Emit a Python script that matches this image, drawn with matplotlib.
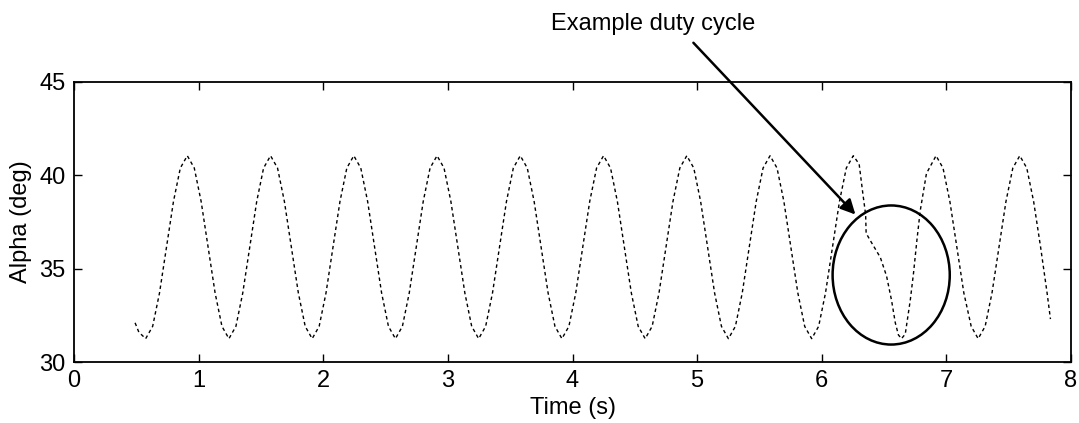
import matplotlib.pyplot as plt
from matplotlib.patches import Ellipse

plt.rcParams['font.family'] = ['Liberation Sans', 'DejaVu Sans']

# time (s) and angle of attack (deg)
time_s = [
    0.490, 0.520,
    0.575, 0.631, 0.686, 0.742, 0.798, 0.853, 0.909, 0.965, 1.020, 1.076, 1.132, 1.187,
    1.243, 1.299, 1.354, 1.410, 1.466, 1.521, 1.577, 1.633, 1.688, 1.744, 1.800, 1.855,
    1.911, 1.967, 2.022, 2.078, 2.134, 2.189, 2.245, 2.301, 2.356, 2.412, 2.468, 2.523,
    2.579, 2.635, 2.690, 2.746, 2.802, 2.857, 2.913, 2.969, 3.024, 3.080, 3.136, 3.191,
    3.247, 3.303, 3.358, 3.414, 3.470, 3.525, 3.581, 3.637, 3.692, 3.748, 3.804, 3.859,
    3.915, 3.971, 4.026, 4.082, 4.138, 4.193, 4.249, 4.305, 4.360, 4.416, 4.472, 4.527,
    4.583, 4.639, 4.694, 4.750, 4.806, 4.861, 4.917, 4.973, 5.028, 5.084, 5.140, 5.195,
    5.251, 5.307, 5.362, 5.418, 5.474, 5.529, 5.585, 5.641, 5.696, 5.752, 5.808, 5.863,
    5.919, 5.975, 6.030, 6.086, 6.142, 6.197, 6.253, 6.300, 6.330,
    6.352, 6.356, 6.390, 6.470, 6.520, 6.560, 6.590, 6.615, 6.640, 6.670, 6.710,
    6.736, 6.763, 6.790, 6.840, 6.917, 6.973, 7.028, 7.084, 7.140, 7.199,
    7.255, 7.311, 7.366, 7.422, 7.478, 7.533, 7.589, 7.645, 7.700, 7.756, 7.808, 7.835,
]
alpha_deg = [
    32.10, 31.60,
    31.25, 31.91, 33.70, 36.15, 38.60, 40.39, 41.05, 40.39, 38.60, 36.15, 33.70, 31.91,
    31.25, 31.91, 33.70, 36.15, 38.60, 40.39, 41.05, 40.39, 38.60, 36.15, 33.70, 31.91,
    31.25, 31.91, 33.70, 36.15, 38.60, 40.39, 41.05, 40.39, 38.60, 36.15, 33.70, 31.91,
    31.25, 31.91, 33.70, 36.15, 38.60, 40.39, 41.05, 40.39, 38.60, 36.15, 33.70, 31.91,
    31.25, 31.91, 33.70, 36.15, 38.60, 40.39, 41.05, 40.39, 38.60, 36.15, 33.70, 31.91,
    31.25, 31.91, 33.70, 36.15, 38.60, 40.39, 41.05, 40.39, 38.60, 36.15, 33.70, 31.91,
    31.25, 31.91, 33.70, 36.15, 38.60, 40.39, 41.05, 40.39, 38.60, 36.15, 33.70, 31.91,
    31.25, 31.91, 33.70, 36.15, 38.60, 40.39, 41.05, 40.39, 38.60, 36.15, 33.70, 31.91,
    31.25, 31.91, 33.70, 36.15, 38.60, 40.39, 41.05, 40.60, 39.00,
    37.90, 36.90, 36.50, 35.60, 34.60, 33.30, 32.10, 31.45, 31.25, 31.50, 33.30,
    34.75, 36.50, 38.10, 40.10, 41.05, 40.39, 38.60, 36.15, 33.70, 31.91,
    31.25, 31.91, 33.70, 36.15, 38.60, 40.39, 41.05, 40.39, 38.60, 36.15, 33.70, 32.30,
]

x_ticks = [0, 1, 2, 3, 4, 5, 6, 7, 8]
y_ticks = [30, 35, 40, 45]

# highlighted duty cycle: centre, width, height in data units
circle_xy = (6.557, 34.66)
circle_w = 0.94
circle_h = 7.45

fig = plt.figure(figsize=(10.79, 4.23), dpi=100)
ax = fig.add_axes([0.0686, 0.1442, 0.924, 0.662])

ax.plot(time_s, alpha_deg, color='black', lw=1.0, linestyle=(0, (2.5, 2.2)))

ax.add_patch(Ellipse(circle_xy, circle_w, circle_h, fill=False,
                     edgecolor='black', lw=1.8))

ax.set_xlim(0, 8)
ax.set_ylim(30, 45)
ax.set_xticks(x_ticks)
ax.set_yticks(y_ticks)
ax.tick_params(direction='in', top=True, right=True, length=6, width=1.0,
               labelsize=17, pad=6)
for s in ax.spines.values():
    s.set_linewidth(1.3)

ax.set_xlabel('Time (s)', fontsize=17, labelpad=3)
ax.set_ylabel('Alpha (deg)', fontsize=17, labelpad=5)

ax.text(4.65, 48.1, 'Example duty cycle', ha='center', va='center',
        fontsize=17, clip_on=False)
ax.annotate('', xy=(6.27, 37.9), xytext=(4.97, 47.1),
            arrowprops=dict(arrowstyle='-|>', color='black', lw=1.8,
                            mutation_scale=22, shrinkA=0, shrinkB=0),
            annotation_clip=False)

fig.savefig('out.png', dpi=100)
